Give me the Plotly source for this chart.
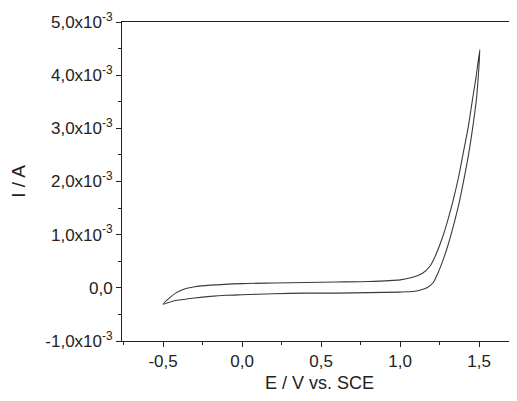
import plotly.graph_objects as go

# Forward (lower) branch: potential (V) and current (A)
E_forward = [-0.5, -0.45, -0.4, -0.3, -0.2, -0.1, 0.0, 0.2, 0.4, 0.6, 0.8, 1.0, 1.08, 1.13, 1.17,
             1.21, 1.24, 1.274, 1.305, 1.337, 1.37, 1.40, 1.43, 1.455, 1.485, 1.505]
I_forward = [-0.31e-3, -0.26e-3, -0.23e-3, -0.19e-3, -0.16e-3, -0.14e-3, -0.13e-3, -0.11e-3,
             -0.10e-3, -0.10e-3, -0.09e-3, -0.08e-3, -0.07e-3, -0.04e-3, 0.0e-3,
             0.1e-3, 0.28e-3, 0.54e-3, 0.82e-3, 1.16e-3, 1.55e-3, 1.98e-3, 2.45e-3, 2.92e-3, 3.6e-3, 4.48e-3]

# Reverse (upper) branch
E_reverse = [1.505, 1.48, 1.455, 1.43, 1.40, 1.37, 1.337, 1.30, 1.264, 1.22, 1.19, 1.14, 1.08,
             1.0, 0.8, 0.6, 0.4, 0.2, 0.0, -0.2, -0.3, -0.373, -0.42, -0.456, -0.5]
I_reverse = [4.48e-3, 3.95e-3, 3.48e-3, 3.0e-3, 2.54e-3, 2.08e-3, 1.66e-3, 1.25e-3, 0.91e-3,
             0.58e-3, 0.41e-3, 0.27e-3, 0.2e-3, 0.15e-3, 0.12e-3, 0.11e-3, 0.10e-3, 0.09e-3,
             0.08e-3, 0.05e-3, 0.02e-3, -0.03e-3, -0.10e-3, -0.18e-3, -0.31e-3]

x_tick_vals = [-0.5, 0.0, 0.5, 1.0, 1.5]
x_tick_text = ["-0,5", "0,0", "0,5", "1,0", "1,5"]
y_tick_vals = [-1.0e-3, 0.0, 1.0e-3, 2.0e-3, 3.0e-3, 4.0e-3, 5.0e-3]
y_tick_text = ["-1,0x10<sup>-3</sup>", "0,0", "1,0x10<sup>-3</sup>", "2,0x10<sup>-3</sup>",
               "3,0x10<sup>-3</sup>", "4,0x10<sup>-3</sup>", "5,0x10<sup>-3</sup>"]

fig = go.Figure()
fig.add_trace(go.Scatter(x=E_forward + E_reverse[1:], y=I_forward + I_reverse[1:],
                         mode="lines", line=dict(color="#3a3a3a", width=1.1, shape="spline", smoothing=0.6),
                         showlegend=False, hoverinfo="skip"))

font = dict(family="Liberation Sans, Arial, sans-serif", size=17, color="#222222")
fig.update_layout(
    width=509, height=385,
    margin=dict(l=114, r=0, t=14, b=52, autoexpand=False),
    paper_bgcolor="white", plot_bgcolor="white",
    font=font,
    xaxis=dict(range=[-0.76, 1.74], tickvals=x_tick_vals, ticktext=x_tick_text,
               showline=True, linecolor="#222222", linewidth=1, mirror=True,
               ticks="outside", ticklen=5, tickcolor="#222222", showgrid=False, zeroline=False,
               minor=dict(dtick=0.25, tick0=0, ticks="outside", ticklen=3, tickcolor="#222222"),
               title=dict(text="E / V vs. SCE", standoff=8, font=dict(size=18))),
    yaxis=dict(range=[-1.0e-3, 5.0e-3], tickvals=y_tick_vals, ticktext=y_tick_text,
               showline=True, linecolor="#222222", linewidth=1,
               ticks="outside", ticklen=5, tickcolor="#222222", showgrid=False, zeroline=False,
               minor=dict(dtick=0.5e-3, tick0=0, ticks="outside", ticklen=3, tickcolor="#222222"),
               title=dict(text="I / A", standoff=18, font=dict(size=19))),
)

fig.write_html("out.html")
